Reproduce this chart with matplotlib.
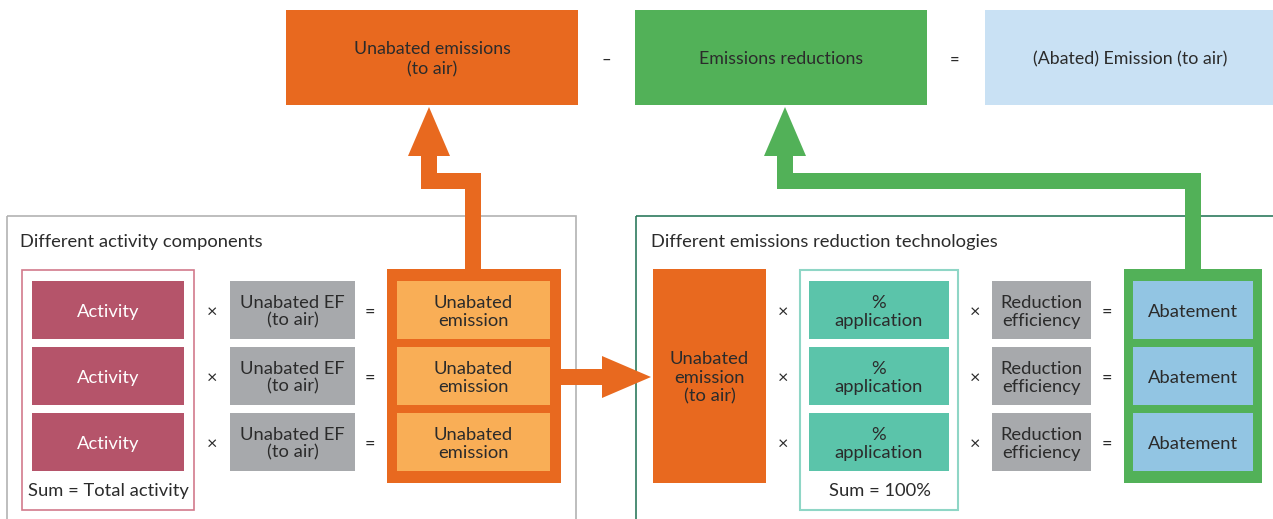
"""Emission calculation flow: unabated emissions minus reductions."""

import matplotlib
matplotlib.use("Agg")
import matplotlib.pyplot as plt
from matplotlib.patches import Rectangle, Polygon

# ---- text content -------------------------------------------------------
top_labels = ["Unabated emissions\n(to air)", "Emissions reductions",
              "(Abated) Emission (to air)"]
top_ops = ["–", "="]

left_title = "Different activity components"
right_title = "Different emissions reduction technologies"

activity_labels = ["Activity", "Activity", "Activity"]
ef_labels = ["Unabated EF\n(to air)"] * 3
unabated_labels = ["Unabated\nemission"] * 3
source_label = "Unabated\nemission\n(to air)"
application_labels = ["%\napplication"] * 3
efficiency_labels = ["Reduction\nefficiency"] * 3
abatement_labels = ["Abatement"] * 3
sum_left = "Sum = Total activity"
sum_right = "Sum = 100%"

# ---- colours ------------------------------------------------------------
ORANGE = "#e8691f"
LIGHT_ORANGE = "#f9ae56"
GREEN = "#52b158"
LIGHT_BLUE = "#c9e1f4"
BLUE = "#92c5e3"
ROSE = "#b5546a"
GREY = "#a7a9ac"
TEAL = "#5bc4aa"
TXT = "#2b2b2b"

plt.rcParams["font.family"] = ["Lato", "DejaVu Sans"]
FS = 13.2
DY = 1.8  # nudge labels down a touch, the bbox centre sits high

W, H = 1273, 519
fig = plt.figure(figsize=(W / 100, H / 100), dpi=100, facecolor="white")
ax = fig.add_axes([0, 0, 1, 1])
ax.set_xlim(0, W)
ax.set_ylim(H, 0)
ax.axis("off")


def box(x0, x1, y0, y1, fc="none", ec="none", lw=0, label=None,
        color=TXT, fs=FS, z=2, ls=1.16):
    ax.add_patch(Rectangle((x0, y0), x1 - x0, y1 - y0, facecolor=fc,
                           edgecolor=ec, linewidth=lw, zorder=z))
    if label:
        ax.text((x0 + x1) / 2, (y0 + y1) / 2 + DY, label, ha="center",
                va="center", color=color, fontsize=fs, linespacing=ls,
                zorder=z + 1)


def op(x, y, s, fs=13):
    ax.text(x, y + DY, s, ha="center", va="center", fontsize=fs, color=TXT)


def elbow_arrow(pts, color, width=16, head_w=42, head_len=48):
    xs = [p[0] for p in pts]
    ys = [p[1] for p in pts]
    tip_x, tip_y = pts[-1]
    base_y = tip_y + head_len
    ys[-1] = base_y
    ax.plot(xs, ys, color=color, lw=width * 0.72, solid_joinstyle="miter",
            solid_capstyle="butt", zorder=1)
    ax.add_patch(Polygon([(tip_x, tip_y), (tip_x - head_w / 2, base_y + 1),
                          (tip_x + head_w / 2, base_y + 1)],
                         closed=True, facecolor=color, edgecolor="none",
                         zorder=1))


# ---- top equation row ---------------------------------------------------
top_y0, top_y1 = 10, 105
top_x = [(286, 578), (635, 927), (985, 1275)]
top_fc = [ORANGE, GREEN, LIGHT_BLUE]
for (x0, x1), fc, lab in zip(top_x, top_fc, top_labels):
    box(x0, x1, top_y0, top_y1, fc=fc, label=lab, fs=FS - 0.4, ls=1.32)
for x, s in zip([606, 955], top_ops):
    op(x, 58, s, fs=12)

# ---- rows ---------------------------------------------------------------
row_top = [281, 347, 413]
row_h = 58
row_c = [t + row_h / 2 for t in row_top]

# left panel
box(7, 576, 216, 530, ec="#b3b3b3", lw=1.2, z=0)
ax.text(20, 242, left_title, ha="left", va="center", fontsize=FS, color=TXT)
box(22, 194, 270, 510, ec="#d27a8c", lw=1.2, z=1)
ax.text(108, 491, sum_left, ha="center", va="center", fontsize=FS, color=TXT)
box(387, 561, 269, 483, fc=ORANGE, z=1)

for t, c, a, e, u in zip(row_top, row_c, activity_labels, ef_labels,
                         unabated_labels):
    box(32, 184, t, t + row_h, fc=ROSE, label=a, color="white")
    op(212, c, "×")
    box(230, 355, t, t + row_h, fc=GREY, label=e)
    op(370, c, "=")
    box(397, 550, t, t + row_h, fc=LIGHT_ORANGE, label=u)

# right panel
box(636, 1290, 216, 530, ec="#2e7a5e", lw=1.2, z=0)
ax.text(651, 242, right_title, ha="left", va="center", fontsize=FS, color=TXT)
box(653, 766, 269, 483, fc=ORANGE, label=source_label, ls=1.2)
box(800, 958, 270, 510, ec="#8fd6c6", lw=1.5, z=1)
ax.text(880, 491, sum_right, ha="center", va="center", fontsize=FS, color=TXT)
box(1124, 1262, 269, 483, fc=GREEN, z=1)

for t, c, p, r, b in zip(row_top, row_c, application_labels,
                         efficiency_labels, abatement_labels):
    op(783, c, "×")
    box(809, 949, t, t + row_h, fc=TEAL, label=p)
    op(975, c, "×")
    box(992, 1091, t, t + row_h, fc=GREY, label=r)
    op(1107, c, "=")
    box(1133, 1253, t, t + row_h, fc=BLUE, label=b)

# ---- arrows -------------------------------------------------------------
elbow_arrow([(473, 270), (473, 181), (429, 181), (429, 107)], ORANGE)
elbow_arrow([(1193, 270), (1193, 181), (785, 181), (785, 107)], GREEN)

# horizontal arrow into the reduction panel
ax.plot([561, 604], [376.5, 376.5], color=ORANGE, lw=16 * 0.72,
        solid_capstyle="butt", zorder=1)
ax.add_patch(Polygon([(651, 377), (602, 356), (602, 398)], closed=True,
                     facecolor=ORANGE, edgecolor="none", zorder=1))

fig.savefig("out.png", dpi=100, facecolor="white")
